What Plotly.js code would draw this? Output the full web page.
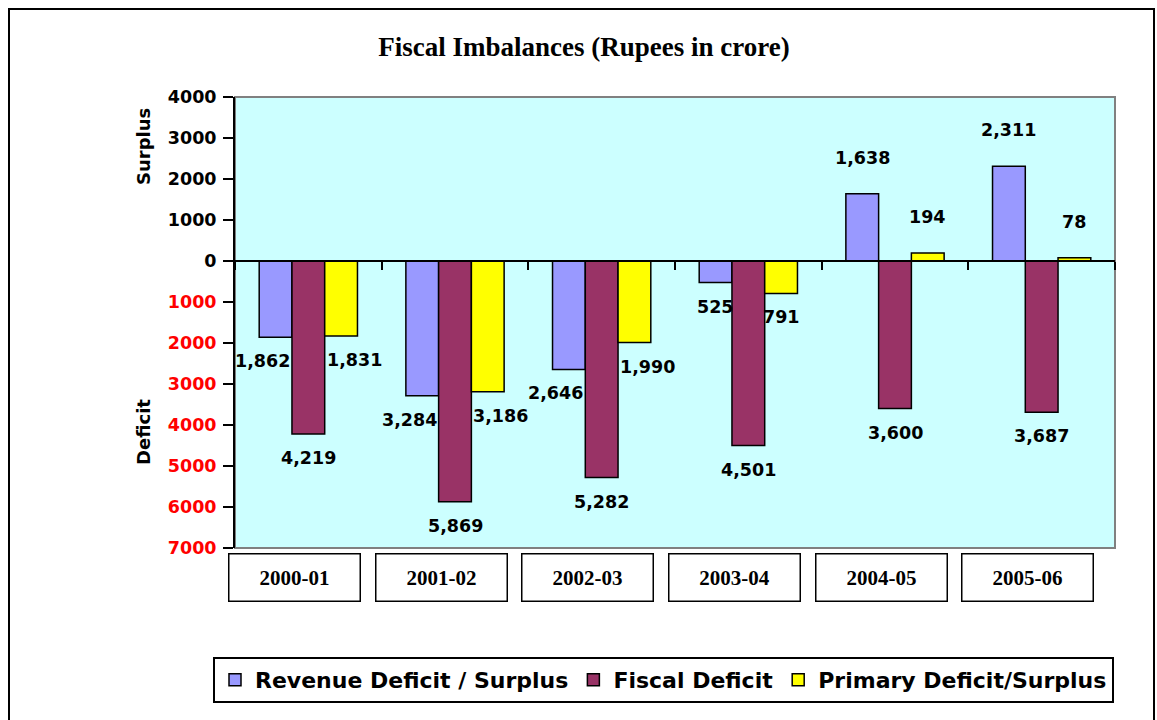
<!DOCTYPE html>
<html><head><meta charset="utf-8">
<script src="https://cdn.plot.ly/plotly-3.0.1.min.js"></script>
<style>
body{margin:0;background:#fff;}
#frame{position:absolute;left:8px;top:8px;width:1147px;height:740px;border:2.5px solid #000;box-sizing:border-box;pointer-events:none;}
</style>
</head><body>
<div id="chart" style="width:1157px;height:720px;"></div>
<div id="frame"></div>
<script>
// ---- data ----
const years = ['2000-01', '2001-02', '2002-03', '2003-04', '2004-05', '2005-06'];
const revenue = [-1862, -3284, -2646, -525, 1638, 2311];
const fiscal = [-4219, -5869, -5282, -4501, -3600, -3687];
const primary = [-1831, -3186, -1990, -791, 194, 78];
const seriesNames = ['Revenue Deficit / Surplus', 'Fiscal Deficit', 'Primary Deficit/Surplus'];
const yTickVals = [-7000, -6000, -5000, -4000, -3000, -2000, -1000, 0, 1000, 2000, 3000, 4000];

// ---- styling ----
const colors = ['#9999FF', '#993366', '#FFFF00'];
const sans = 'DejaVu Sans';
const serif = 'Liberation Serif';
const yMin = -7000, yMax = 4000;
const bargap = 0.33;
const plotW = 1157 - 235 - 42;
const plotH = 720 - 97 - 172;
const groupPx = plotW / years.length;
const barPx = groupPx * (1 - bargap) / 3;

const series = [revenue, fiscal, primary];
const traces = series.map((vals, i) => ({
  type: 'bar', x: years, y: vals, name: seriesNames[i],
  marker: {color: colors[i], line: {color: '#000', width: 1.5}},
  hoverinfo: 'x+y'
}));

const fmt = v => Math.abs(v).toLocaleString('en-US');
const annotations = [];
series.forEach((vals, i) => {
  vals.forEach((v, j) => {
    let xs = (i - 1) * barPx;
    if (i !== 1 && v < 0 && Math.abs(v) >= 1000) xs += (i === 0 ? -13 : 13);
    annotations.push({
      x: years[j], y: v, xref: 'x', yref: 'y', text: fmt(v), showarrow: false,
      xanchor: 'center', xshift: xs, yshift: v < 0 ? -24 : 36, yanchor: 'middle',
      font: {family: sans, size: 17.5, color: '#000', weight: 'bold'}
    });
  });
});
// category label boxes
years.forEach(y => {
  annotations.push({
    x: y, xref: 'x', yref: 'paper', y: -0.0654, yanchor: 'middle', xanchor: 'center', xshift: -14,
    text: '<b>' + y + '</b>', showarrow: false, width: 130, height: 46,
    bordercolor: '#000', borderwidth: 1.5, borderpad: 0, bgcolor: '#fff',
    font: {family: serif, size: 21, color: '#000'}
  });
});
// y-axis side titles
annotations.push({xref: 'paper', yref: 'paper', x: (143 - 235) / plotW, y: (548 - 147) / plotH,
  xanchor: 'center', yanchor: 'middle',
  text: '<b>Surplus</b>', textangle: -90, showarrow: false,
  font: {family: sans, size: 18, color: '#000'}});
annotations.push({xref: 'paper', yref: 'paper', x: (143 - 235) / plotW, y: (548 - 432) / plotH,
  xanchor: 'center', yanchor: 'middle',
  text: '<b>Deficit</b>', textangle: -90, showarrow: false,
  font: {family: sans, size: 18, color: '#000'}});

const yTickText = yTickVals.map(v => v < 0
  ? '<span style="color:#FF0000">' + Math.abs(v) + '</span>' : String(v));

const layout = {
  width: 1157, height: 720,
  margin: {l: 235, r: 42, t: 97, b: 172, autoexpand: false},
  paper_bgcolor: '#fff', plot_bgcolor: '#CCFFFF',
  barmode: 'group', bargap: bargap, bargroupgap: 0,
  title: {text: '<b>Fiscal Imbalances (Rupees in crore)</b>', xref: 'container', yref: 'container',
    x: 584 / 1157, xanchor: 'center', y: 1 - 47 / 720, yanchor: 'middle',
    font: {family: serif, size: 27, color: '#000'}},
  xaxis: {type: 'category', range: [-0.5, years.length - 0.5], autorange: false,
    anchor: 'free', position: (0 - yMin) / (yMax - yMin),
    showline: true, linecolor: '#000', linewidth: 2, ticks: 'outside', tickson: 'boundaries',
    ticklen: 8, tickwidth: 2, tickcolor: '#000', showticklabels: false, showgrid: false,
    zeroline: false, layer: 'above traces'},
  yaxis: {range: [yMin, yMax], tickvals: yTickVals, ticktext: yTickText,
    showline: true, linecolor: '#000', linewidth: 2, ticks: 'outside', ticklen: 10,
    tickwidth: 2, tickcolor: '#000', showgrid: false, zeroline: false, ticklabelstandoff: 3,
    tickfont: {family: sans, size: 17.5, color: '#000', weight: 'bold'}, layer: 'above traces'},
  shapes: [{type: 'rect', xref: 'paper', yref: 'paper', x0: 0, x1: 1, y0: 0, y1: 1,
    line: {color: '#808080', width: 2}, layer: 'below'}],
  legend: {orientation: 'h', x: (213 - 235) / plotW, xanchor: 'left', y: (548 - 657) / plotH, yanchor: 'top',
    bordercolor: '#000', borderwidth: 2, bgcolor: '#fff', itemwidth: 30,
    font: {family: sans, size: 22, color: '#000', weight: 'bold'}},
  annotations: annotations,
  showlegend: true
};

Plotly.newPlot('chart', traces, layout, {displayModeBar: false, responsive: false});
</script>
</body></html>
